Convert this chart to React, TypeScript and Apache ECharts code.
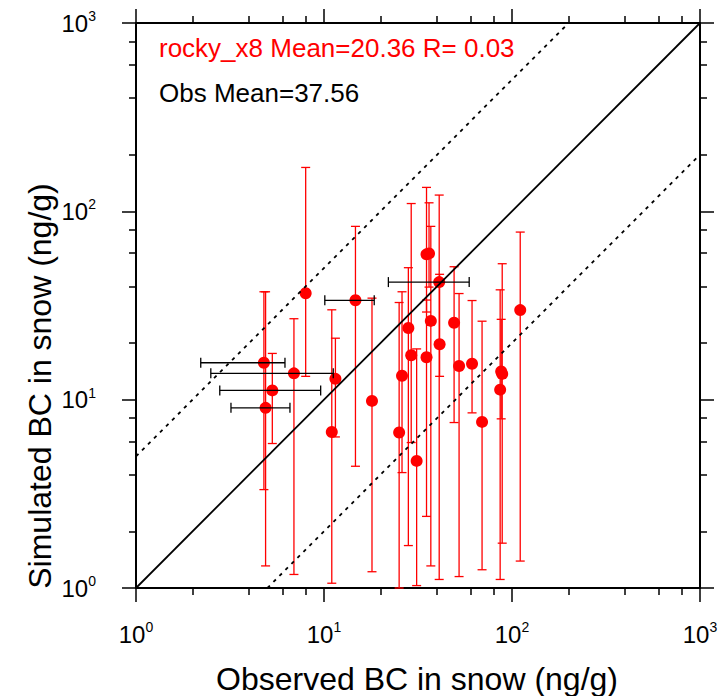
import React, { useEffect, useRef } from 'react';
import * as echarts from 'echarts';

// Observed (x) and simulated (y) BC in snow, ng/g
const obs = [4.79, 6.92, 5.31, 4.89, 7.99, 14.7, 11.5, 11.0, 18.0, 25.1, 26.0, 28.1, 29.1, 31.1, 35.1, 36.2, 35.1, 37.0, 41.0, 41.2, 49.2, 52.3, 61.3, 69.3, 88.7, 87.6, 86.5, 110.6];
const sim = [15.7, 13.8, 11.2, 9.05, 36.7, 33.7, 12.9, 6.74, 9.85, 6.69, 13.4, 24.0, 17.2, 4.73, 59.1, 59.8, 16.8, 26.2, 42.1, 19.7, 25.6, 15.1, 15.5, 7.62, 13.7, 14.1, 11.3, 29.9];
const simLo = [3.33, 1.18, 5.85, 1.31, 13.3, 4.43, 6.34, 1.06, 1.22, 1.0, 4.10, 1.68, 5.92, 1.03, 29.2, 39.6, 2.40, 1.31, 1.11, 13.3, 7.56, 1.15, 8.51, 1.25, 1.73, 7.91, 1.11, 1.39];
const simHi = [37.4, 26.9, 17.6, 37.4, 171, 83.2, 21.2, 30.0, 34.6, 32.8, 37.4, 50.2, 110, 18.6, 134, 111, 33.8, 83.2, 122, 46.3, 50.8, 36.6, 33.6, 26.1, 52.7, 26.7, 38.3, 77.6];
const obsLo: (number | null)[] = [2.21, 2.50, 2.79, 3.20, null, 10.1, null, null, null, null, null, null, null, null, null, null, null, null, 22.0, null, null, null, null, null, null, null, null, null];
const obsHi: (number | null)[] = [6.20, 11.2, 9.60, 6.59, null, 18.5, null, null, null, null, null, null, null, null, null, null, null, null, 59.2, null, null, null, null, null, null, null, null, null];

const minorTicks = [2, 4, 6, 8, 20, 40, 60, 80, 200, 400, 600, 800];
const oneToOne = [[1, 1], [1000, 1000]];
const upperFactor = [[1, 5], [200, 1000]];
const lowerFactor = [[5, 1], [1000, 200]];

const modelText = 'rocky_x8 Mean=20.36 R= 0.03';
const obsText = 'Obs Mean=37.56';
const xTitle = 'Observed BC in snow (ng/g)';
const yTitle = 'Simulated BC in snow (ng/g)';

const FONT = "'Liberation Sans', Arial, Helvetica, sans-serif";

export default function App() {
  const ref = useRef<HTMLDivElement>(null);
  useEffect(() => {
    if (!ref.current) return;
    const chart = echarts.init(ref.current, null, { renderer: 'svg' });

    const labelRich = {
      b: { fontSize: 24, fontFamily: FONT, color: '#000', lineHeight: 28 },
      s: { fontSize: 14, fontFamily: FONT, color: '#000', verticalAlign: 'top', lineHeight: 14 },
    };
    const fmt = (v: number) => `{b|10}{s|${Math.round(Math.log10(v))}}`;

    const axisBase = (pos: string, major: boolean, labels: boolean, margin = 32) => ({
      type: 'log',
      logBase: 10,
      min: 1,
      max: 1000,
      position: pos,
      axisLine: { show: major, lineStyle: { color: '#000', width: 2 } },
      axisTick: major
        ? { show: true, inside: false, length: 14, lineStyle: { color: '#000', width: 1.5 } }
        : { show: true, inside: false, length: 7, customValues: minorTicks, lineStyle: { color: '#000', width: 1.5 } },
      axisLabel: labels
        ? { show: true, margin, formatter: fmt, rich: labelRich }
        : { show: false },
      splitLine: { show: false },
      minorTick: { show: false },
      minorSplitLine: { show: false },
    });

    const option: any = {
      animation: false,
      backgroundColor: '#fff',
      grid: { left: 136, top: 23, width: 564, height: 565, containLabel: false, outerBoundsMode: 'none' },
      xAxis: [
        axisBase('bottom', true, true, 32),
        axisBase('bottom', false, false),
        axisBase('top', true, false),
        axisBase('top', false, false),
      ],
      yAxis: [
        axisBase('left', true, true, 40),
        axisBase('left', false, false),
        axisBase('right', true, false),
        axisBase('right', false, false),
      ],
      series: [
        {
          type: 'scatter',
          xAxisIndex: 0,
          yAxisIndex: 0,
          symbol: 'circle',
          symbolSize: 12,
          itemStyle: { color: '#ff0000', opacity: 1 },
          data: obs.map((x, i) => [x, sim[i]]),
          z: 2,
          silent: true,
        },
        {
          type: 'custom',
          xAxisIndex: 0,
          yAxisIndex: 0,
          z: 3,
          silent: true,
          data: obs.map((x, i) => [x, sim[i], simLo[i], simHi[i]]),
          encode: { x: 0, y: 1 },
          renderItem: (params: any, api: any) => {
            const x = api.value(0);
            const pLo = api.coord([x, api.value(2)]);
            const pHi = api.coord([x, api.value(3)]);
            const c = 4.5;
            const st = { stroke: '#ff0000', lineWidth: 1.3, fill: null };
            return {
              type: 'group',
              children: [
                { type: 'line', shape: { x1: pLo[0], y1: pLo[1], x2: pHi[0], y2: pHi[1] }, style: st },
                { type: 'line', shape: { x1: pLo[0] - c, y1: pLo[1], x2: pLo[0] + c, y2: pLo[1] }, style: st },
                { type: 'line', shape: { x1: pHi[0] - c, y1: pHi[1], x2: pHi[0] + c, y2: pHi[1] }, style: st },
              ],
            };
          },
        },
        {
          type: 'custom',
          xAxisIndex: 0,
          yAxisIndex: 0,
          z: 4,
          silent: true,
          data: obs
            .map((x, i) => [x, sim[i], obsLo[i], obsHi[i]])
            .filter((d) => d[2] != null),
          encode: { x: 0, y: 1 },
          renderItem: (params: any, api: any) => {
            const y = api.value(1);
            const pLo = api.coord([api.value(2), y]);
            const pHi = api.coord([api.value(3), y]);
            const c = 5;
            const st = { stroke: '#000', lineWidth: 1.3, fill: null };
            return {
              type: 'group',
              children: [
                { type: 'line', shape: { x1: pLo[0], y1: pLo[1], x2: pHi[0], y2: pHi[1] }, style: st },
                { type: 'line', shape: { x1: pLo[0], y1: pLo[1] - c, x2: pLo[0], y2: pLo[1] + c }, style: st },
                { type: 'line', shape: { x1: pHi[0], y1: pHi[1] - c, x2: pHi[0], y2: pHi[1] + c }, style: st },
              ],
            };
          },
        },
        {
          type: 'line',
          xAxisIndex: 0,
          yAxisIndex: 0,
          data: oneToOne,
          showSymbol: false,
          symbol: 'none',
          lineStyle: { color: '#000', width: 1.8 },
          z: 5,
          silent: true,
        },
        {
          type: 'line',
          xAxisIndex: 0,
          yAxisIndex: 0,
          data: upperFactor,
          showSymbol: false,
          symbol: 'none',
          lineStyle: { color: '#000', width: 1.8, type: [3.5, 5] },
          z: 5,
          silent: true,
        },
        {
          type: 'line',
          xAxisIndex: 0,
          yAxisIndex: 0,
          data: lowerFactor,
          showSymbol: false,
          symbol: 'none',
          lineStyle: { color: '#000', width: 1.8, type: [3.5, 5] },
          z: 5,
          silent: true,
        },
      ],
      graphic: [
        {
          type: 'text',
          x: 159,
          y: 48,
          style: { text: modelText, fill: '#ff0000', font: `26px ${FONT}`, textAlign: 'left', textVerticalAlign: 'middle' },
        },
        {
          type: 'text',
          x: 159,
          y: 93,
          style: { text: obsText, fill: '#000', font: `26px ${FONT}`, textAlign: 'left', textVerticalAlign: 'middle' },
        },
        {
          type: 'text',
          x: 417,
          y: 679,
          style: { text: xTitle, fill: '#000', font: `32px ${FONT}`, textAlign: 'center', textVerticalAlign: 'middle' },
        },
        {
          type: 'text',
          x: 40,
          y: 386,
          rotation: Math.PI / 2,
          style: { text: yTitle, fill: '#000', font: `32px ${FONT}`, textAlign: 'center', textVerticalAlign: 'middle' },
        },
      ],
    };
    chart.setOption(option);
    return () => chart.dispose();
  }, []);

  return (
    <div
      ref={ref}
      style={{ position: 'fixed', left: 0, top: 0, width: 721, height: 696, background: '#fff' }}
    />
  );
}
